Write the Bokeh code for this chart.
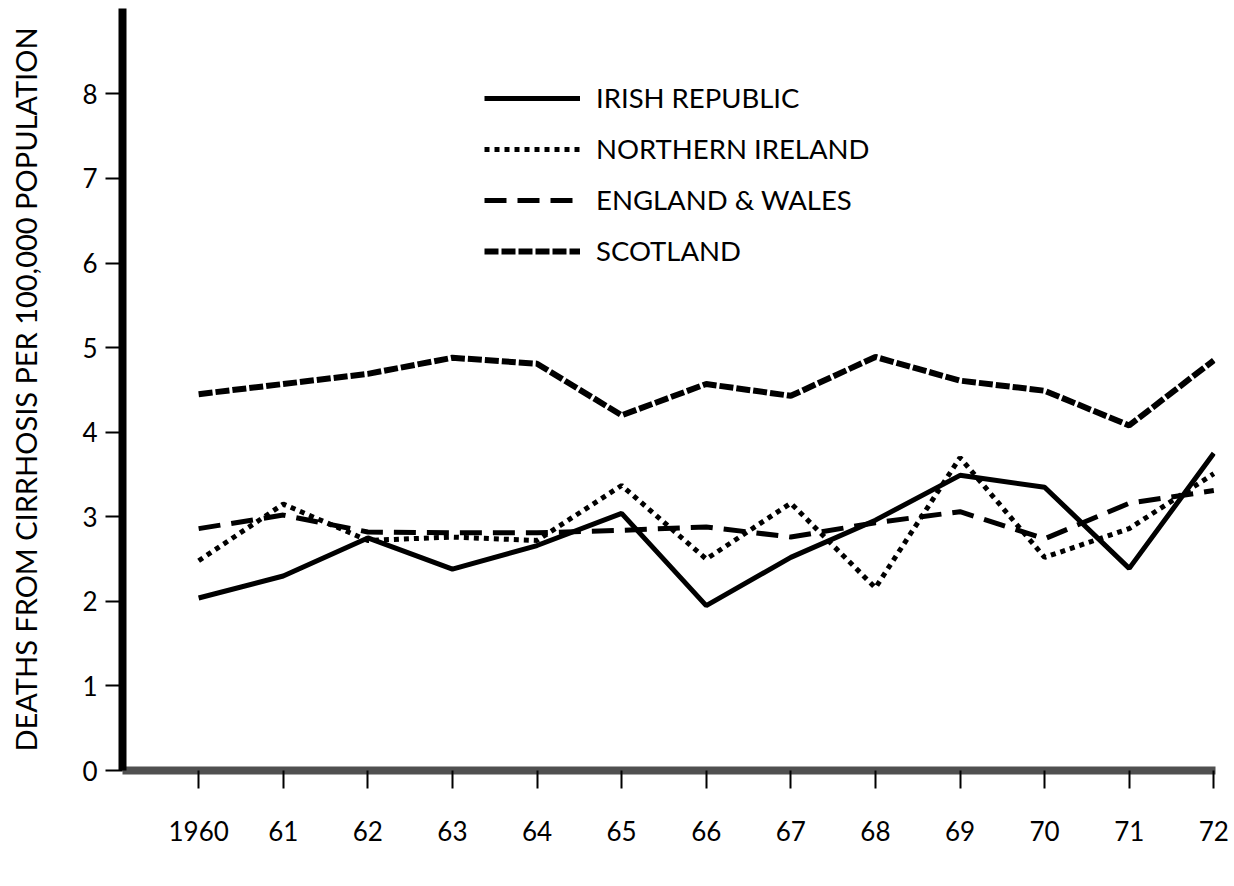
from bokeh.plotting import figure
from bokeh.models import FixedTicker, Range1d, Legend, LegendItem
from bokeh.embed import file_html
from bokeh.resources import INLINE

years = [1960, 1961, 1962, 1963, 1964, 1965, 1966, 1967, 1968, 1969, 1970, 1971, 1972]
year_labels = ["1960", "61", "62", "63", "64", "65", "66", "67", "68", "69", "70", "71", "72"]
y_ticks = [0, 1, 2, 3, 4, 5, 6, 7, 8]

irish_republic = [2.04, 2.30, 2.75, 2.38, 2.66, 3.04, 1.95, 2.52, 2.96, 3.49, 3.35, 2.39, 3.75]
northern_ireland = [2.48, 3.15, 2.72, 2.76, 2.72, 3.37, 2.50, 3.16, 2.16, 3.70, 2.52, 2.86, 3.51]
england_wales = [2.86, 3.02, 2.82, 2.81, 2.81, 2.84, 2.88, 2.76, 2.93, 3.06, 2.74, 3.16, 3.31]
scotland = [4.45, 4.57, 4.69, 4.88, 4.81, 4.20, 4.57, 4.43, 4.89, 4.61, 4.49, 4.08, 4.85]

FONT = "Lato"

p = figure(width=1234, height=886, output_backend="svg", toolbar_location=None,
           x_range=Range1d(1959.10, 1972.02), y_range=Range1d(0, 9.01),
           min_border_left=122, min_border_right=19, min_border_top=8,
           min_border_bottom=116)
p.outline_line_color = None
p.grid.visible = False
p.background_fill_color = "white"
p.border_fill_color = "white"

r_ir = p.line(years, irish_republic, line_color="black", line_width=5)
r_ni = p.line(years, northern_ireland, line_color="black", line_width=5,
              line_dash="5 5")
r_ew = p.line(years, england_wales, line_color="black", line_width=5,
              line_dash="22 11")
r_sc = p.line(years, scotland, line_color="black", line_width=6,
              line_dash="14 3")

# axes
p.xaxis.ticker = FixedTicker(ticks=years)
p.xaxis.major_label_overrides = {y: l for y, l in zip(years, year_labels)}
p.xaxis.axis_line_width = 8
p.xaxis.axis_line_color = "#505050"
p.xaxis.major_tick_out = 18
p.xaxis.major_tick_in = 0
p.xaxis.major_tick_line_width = 2
p.xaxis.minor_tick_line_color = None
p.xaxis.major_label_text_font = FONT
p.xaxis.major_label_text_font_size = "26px"
p.xaxis.major_label_text_color = "black"
p.xaxis.major_label_standoff = 32

p.yaxis.ticker = FixedTicker(ticks=y_ticks)
p.yaxis.axis_line_width = 8
p.yaxis.axis_line_color = "black"
p.yaxis.major_tick_out = 17
p.yaxis.major_tick_in = 0
p.yaxis.major_tick_line_width = 2
p.yaxis.minor_tick_line_color = None
p.yaxis.major_label_text_font = FONT
p.yaxis.major_label_text_font_size = "26px"
p.yaxis.major_label_text_color = "black"
p.yaxis.major_label_standoff = 8
p.yaxis.axis_label = "DEATHS FROM CIRRHOSIS PER 100,000 POPULATION"
p.yaxis.axis_label_text_font = FONT
p.yaxis.axis_label_text_font_style = "normal"
p.yaxis.axis_label_text_font_size = "29px"
p.yaxis.axis_label_text_color = "black"
p.yaxis.axis_label_standoff = 36

legend = Legend(items=[
    LegendItem(label="IRISH REPUBLIC", renderers=[r_ir]),
    LegendItem(label="NORTHERN IRELAND", renderers=[r_ni]),
    LegendItem(label="ENGLAND & WALES", renderers=[r_ew]),
    LegendItem(label="SCOTLAND", renderers=[r_sc]),
], location=(362, 503))
legend.border_line_color = None
legend.background_fill_alpha = 0
legend.margin = 0
legend.padding = 0
legend.glyph_width = 96
legend.glyph_height = 30
legend.label_height = 30
legend.spacing = 18
legend.label_standoff = 16
legend.label_text_font = FONT
legend.label_text_font_size = "27.5px"
legend.label_text_color = "black"
legend.label_text_baseline = "middle"
p.add_layout(legend)

open("out.html", "w").write(file_html(p, INLINE))
